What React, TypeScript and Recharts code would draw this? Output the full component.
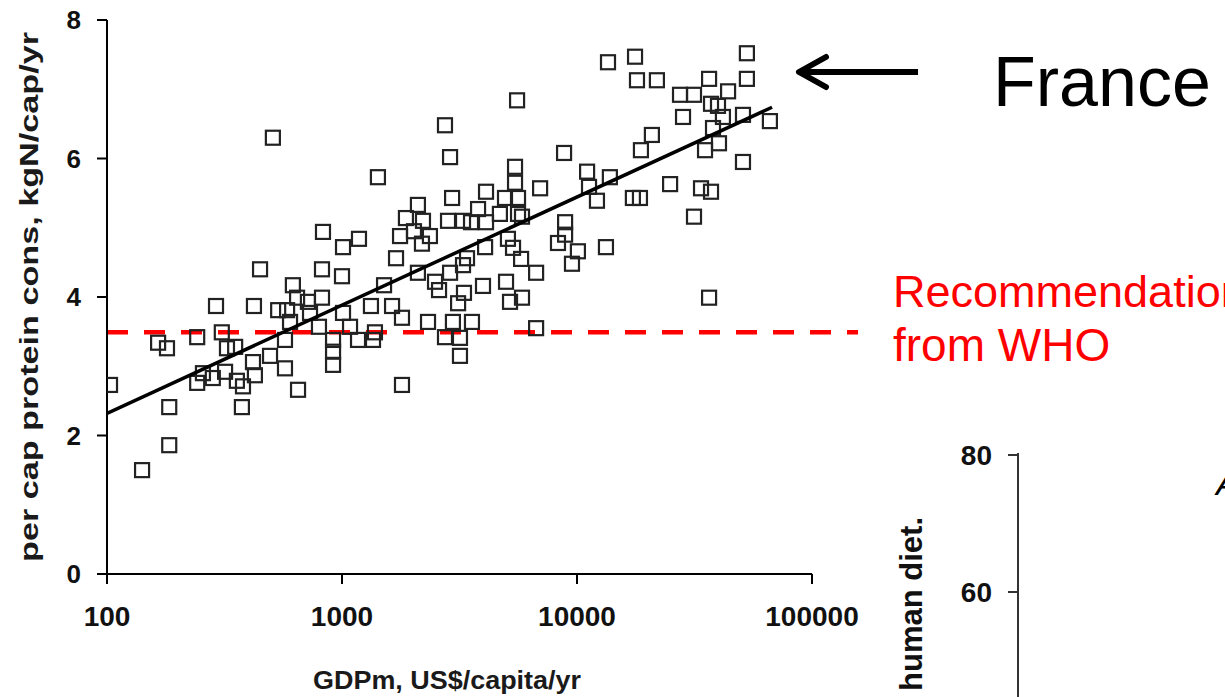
import React from 'react';
import { ScatterChart, Scatter, XAxis, YAxis, ReferenceLine, Label } from 'recharts';

// GDP per capita (US$/yr) and per capita protein consumption (kgN/cap/yr), one entry per country
const gdp = [
	103, 141, 165, 180, 184, 184, 242, 242, 256, 282, 318, 357, 379, 375, 291, 308, 324, 351, 418, 426,
	448, 422, 494, 508, 535, 584, 601, 572, 572, 618, 644, 650, 716, 731, 822, 830, 822, 798, 916, 916,
	916, 1010, 1000, 1010, 1082, 1170, 1181, 1355, 1381, 1328, 1422, 1510, 1633, 1698, 1766, 1800, 1800, 1871, 2024, 2104,
	2104, 2211, 2367, 2189, 2323, 2488, 2588, 2743, 2883, 2883, 2941, 2826, 3273, 3540, 4101, 3404, 3273, 3981, 3304, 3119,
	2965, 3573, 2743, 3177, 3177, 4101, 4064, 3793, 4698, 4939, 5449, 5449, 5559, 5611, 5611, 5834, 6966, 4989, 5188, 5834,
	6699, 6699, 5083, 5343, 5782, 8810, 11040, 11250, 12160, 8900, 8900, 8300, 10090, 9520, 13280, 13800, 17290, 18530, 13550, 17660,
	18000, 21880, 18710, 20830, 24900, 27440, 31470, 28260, 31470, 33710, 37180, 35060, 36480, 36480, 37180, 37910, 39810, 40200, 41780, 43940,
	50850, 50850, 52840, 52840, 66200,
];
const protein = [
	2.73, 1.5, 3.34, 3.26, 2.41, 1.86, 3.42, 2.76, 2.9, 2.83, 2.92, 2.79, 2.71, 2.41, 3.87, 3.49, 3.26, 3.28, 3.06, 2.87,
	4.4, 3.87, 3.15, 6.3, 3.81, 3.81, 3.64, 3.38, 2.97, 4.17, 3.99, 2.66, 3.93, 3.77, 3.99, 4.94, 4.4, 3.57, 3.38, 3.21,
	3.02, 4.72, 4.3, 3.77, 3.57, 3.38, 4.84, 3.38, 3.49, 3.87, 5.73, 4.17, 3.87, 4.56, 4.88, 3.7, 2.73, 5.14, 4.95, 5.33,
	4.35, 5.1, 4.88, 4.77, 3.64, 4.22, 4.1, 6.48, 6.02, 4.35, 5.43, 5.1, 5.1, 5.08, 5.08, 4.56, 4.46, 4.16, 4.06, 3.91,
	3.64, 3.64, 3.42, 3.41, 3.15, 5.52, 4.72, 5.27, 5.2, 5.43, 5.88, 5.65, 6.84, 5.43, 5.2, 5.16, 5.57, 4.22, 3.93, 3.99,
	4.35, 3.55, 4.84, 4.71, 4.55, 6.08, 5.81, 5.59, 5.39, 5.08, 4.9, 4.78, 4.66, 4.48, 4.72, 5.73, 5.43, 5.43, 7.39, 7.47,
	7.13, 7.13, 6.12, 6.34, 5.63, 6.92, 6.92, 6.6, 5.16, 5.57, 5.52, 6.12, 7.15, 3.99, 6.79, 6.44, 6.76, 6.22, 6.6, 6.97,
	6.63, 5.95, 7.52, 7.15, 6.54,
];

// regression line end points
const trendGdp = [100, 67600];
const trendProtein = [2.32, 6.74];

// WHO recommendation level, the dashed line runs past the axis end
const whoLevel = 3.49;
const whoGdp = [100, 157000];

const xTicks = [100, 1000, 10000, 100000];
const yTicks = [0, 2, 4, 6, 8];

// the next panel, only its top two ticks show
const dietTickLabels = ['80', '60'];

const points = gdp.map((g, i) => ({ gdp: g, protein: protein[i] }));
const trend = trendGdp.map((g, i) => ({ gdp: g, protein: trendProtein[i] }));

const font = 'Liberation Sans, Arial, sans-serif';
const xTickStyle = { fontSize: 28, fontWeight: 'bold', fill: '#111', fontFamily: font };
const yTickStyle = { fontSize: 26, fontWeight: 'bold', fill: '#111', fontFamily: font };

const Square = (props) => {
	const { cx, cy } = props;
	if (cx == null || cy == null) return <g />;
	return <rect x={cx - 7} y={cy - 7} width={14} height={14} fill="none" stroke="#222" strokeWidth={2.2} />;
};

const NoDot = () => <g />;

const YTitle = () => (
	<text
		x={29}
		y={297}
		transform="rotate(-90, 29, 297)"
		textAnchor="middle"
		dominantBaseline="central"
		fontFamily={font}
		fontWeight="bold"
		fontSize={25}
		fill="#1a1a1a"
		textLength={530}
		lengthAdjust="spacingAndGlyphs"
	>
		per cap protein cons, kgN/cap/yr
	</text>
);

const XTitle = () => (
	<text
		x={447}
		y={689}
		textAnchor="middle"
		fontFamily={font}
		fontWeight="bold"
		fontSize={26}
		fill="#1a1a1a"
		textLength={268}
		lengthAdjust="spacingAndGlyphs"
	>
		GDPm, US$/capita/yr
	</text>
);

const App = () => {
	return (
		<div style={{ position: 'fixed', left: 0, top: 0, width: 1225, height: 697, overflow: 'hidden', background: '#fff' }}>
			<div style={{ position: 'absolute', left: 0, top: 0 }}>
				<ScatterChart width={900} height={697} margin={{ top: 20, right: 88, bottom: 0, left: 0 }}>
					<XAxis
						dataKey="gdp"
						type="number"
						scale="log"
						domain={[100, 100000]}
						ticks={xTicks}
						allowDataOverflow
						height={123}
						stroke="#000"
						strokeWidth={2}
						tickSize={10}
						tickMargin={22}
						tick={xTickStyle}
						tickFormatter={(v) => String(v)}
					>
						<Label content={<XTitle />} />
					</XAxis>
					<YAxis
						dataKey="protein"
						type="number"
						domain={[0, 8]}
						ticks={yTicks}
						width={107}
						stroke="#000"
						strokeWidth={2}
						tickSize={10}
						tickMargin={16}
						tick={yTickStyle}
					>
						<Label content={<YTitle />} />
					</YAxis>
					<ReferenceLine
						segment={[
							{ x: whoGdp[0], y: whoLevel },
							{ x: whoGdp[1], y: whoLevel },
						]}
						stroke="#ff0000"
						strokeWidth={4.5}
						strokeDasharray="21 16"
						ifOverflow="visible"
					/>
					<Scatter data={points} shape={<Square />} isAnimationActive={false} />
					<Scatter
						data={trend}
						shape={<NoDot />}
						line={{ stroke: '#000', strokeWidth: 3.5 }}
						isAnimationActive={false}
					/>
				</ScatterChart>
			</div>

			<svg width={1225} height={697} style={{ position: 'absolute', left: 0, top: 0, pointerEvents: 'none' }}>
				{/* arrow pointing at France */}
				<line x1={802} y1={72} x2={918} y2={72} stroke="#000" strokeWidth={6} />
				<polyline points="826,57 799,72 826,87" fill="none" stroke="#000" strokeWidth={6} strokeLinecap="round" strokeLinejoin="round" />
				<text x={993} y={106} fontFamily={font} fontSize={70} fill="#000">
					France
				</text>
				<text x={893} y={307} fontFamily={font} fontSize={45} fill="#ff0000">
					Recommendation
				</text>
				<text x={893} y={361} fontFamily={font} fontSize={46} fill="#ff0000">
					from WHO
				</text>

				{/* edge of the neighbouring panel */}
				<line x1={1018} y1={453} x2={1018} y2={697} stroke="#333" strokeWidth={2} />
				<line x1={1008} y1={455} x2={1018} y2={455} stroke="#333" strokeWidth={2} />
				<line x1={1008} y1={592} x2={1018} y2={592} stroke="#333" strokeWidth={2} />
				<text x={992} y={455} textAnchor="end" dominantBaseline="central" fontFamily={font} fontWeight="bold" fontSize={28} fill="#111">
					{dietTickLabels[0]}
				</text>
				<text x={992} y={592} textAnchor="end" dominantBaseline="central" fontFamily={font} fontWeight="bold" fontSize={28} fill="#111">
					{dietTickLabels[1]}
				</text>
				<text
					x={922}
					y={517}
					transform="rotate(-90, 922, 517)"
					textAnchor="end"
					fontFamily={font}
					fontWeight="bold"
					fontSize={31}
					fill="#111"
				>
					human diet.
				</text>
				<text x={1216} y={495} fontFamily={font} fontStyle="italic" fontSize={34} fill="#000">
					A
				</text>
			</svg>
		</div>
	);
};

export default App;
